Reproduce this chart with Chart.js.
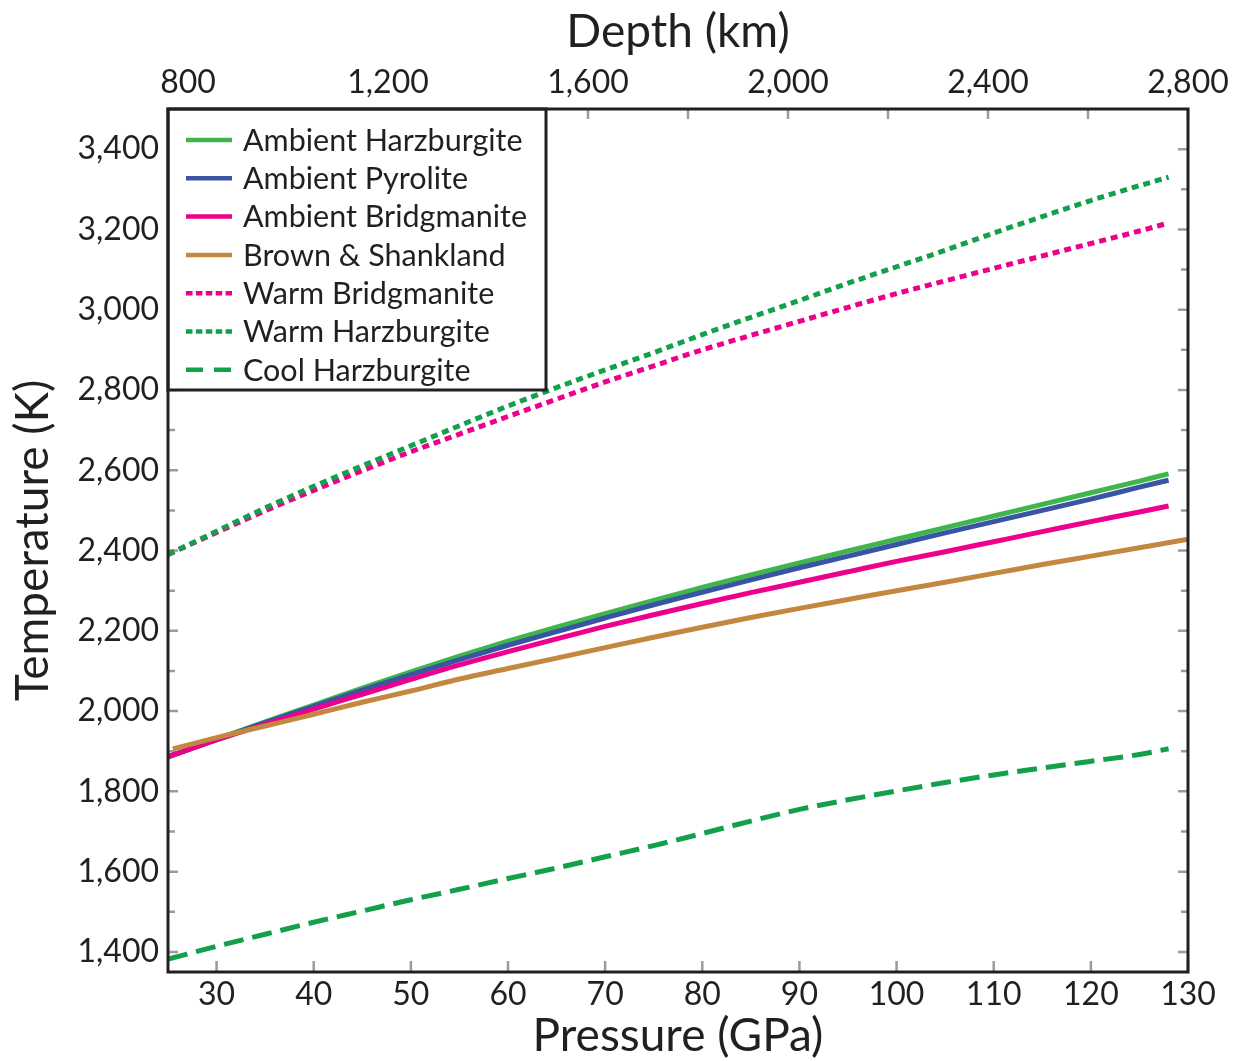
<!DOCTYPE html>
<html>
<head>
<meta charset="utf-8">
<script src="https://cdn.jsdelivr.net/npm/chart.js@4.4.1/dist/chart.umd.min.js"></script>
<style>
  html, body { margin: 0; padding: 0; background: #ffffff; }
  #wrap { width: 1242px; height: 1061px; }
</style>
</head>
<body>
<div id="wrap"><canvas id="c" width="1242" height="1061"></canvas></div>
<script>
// Pressure grid (GPa) shared by most profiles
const pressure = [25, 30, 35, 40, 45, 50, 55, 60, 65, 70, 75, 80, 85, 90, 95, 100, 105, 110, 115, 120, 125, 128];

// Temperature profiles (K)
const ambientHarzburgite = [1886, 1930, 1973, 2015, 2057, 2098, 2137, 2174, 2209, 2243, 2276, 2308, 2339, 2369, 2399, 2428, 2457, 2486, 2515, 2544, 2573, 2591];
const ambientPyrolite    = [1886, 1929, 1971, 2012, 2052, 2091, 2128, 2164, 2198, 2232, 2265, 2296, 2327, 2357, 2386, 2415, 2444, 2472, 2500, 2528, 2558, 2575];
const ambientBridgmanite = [1886, 1928, 1967, 2005, 2042, 2079, 2115, 2148, 2180, 2211, 2240, 2268, 2295, 2321, 2347, 2373, 2397, 2422, 2447, 2472, 2496, 2511];
const warmBridgmanite    = [2390, 2445, 2499, 2550, 2599, 2646, 2690, 2734, 2777, 2820, 2860, 2900, 2936, 2971, 3006, 3040, 3072, 3103, 3134, 3165, 3196, 3216];
const warmHarzburgite    = [2390, 2448, 2506, 2560, 2611, 2661, 2711, 2760, 2806, 2850, 2893, 2938, 2981, 3023, 3066, 3107, 3148, 3191, 3232, 3272, 3309, 3330];
const coolHarzburgite    = [1382, 1414, 1444, 1474, 1502, 1530, 1556, 1583, 1609, 1637, 1665, 1695, 1726, 1755, 1779, 1801, 1822, 1841, 1858, 1875, 1892, 1906];

// Brown & Shankland geotherm on its own pressure grid
const brownPressure  = [25.5, 30, 35, 40, 45, 50, 55, 60, 65, 70, 75, 80, 85, 90, 95, 100, 105, 110, 115, 120, 125, 130];
const brownShankland = [1906, 1934, 1963, 1992, 2022, 2050, 2080, 2106, 2132, 2158, 2184, 2209, 2233, 2256, 2278, 2300, 2321, 2343, 2365, 2386, 2407, 2428];

// Axis ticks
const pressureTicks = [30, 40, 50, 60, 70, 80, 90, 100, 110, 120, 130];
const depthTicks    = [800, 1000, 1200, 1400, 1600, 1800, 2000, 2200, 2400, 2600, 2800];
const depthLabels   = [800, 1200, 1600, 2000, 2400, 2800];
const tempTicks     = [1400, 1500, 1600, 1700, 1800, 1900, 2000, 2100, 2200, 2300, 2400, 2500, 2600, 2700, 2800, 2900, 3000, 3100, 3200, 3300, 3400];
const tempLabels    = [1400, 1600, 1800, 2000, 2200, 2400, 2600, 2800, 3000, 3200, 3400];

const INK = '#231f20';
const FONT = 'Lato';

function pts(xs, ys) { return xs.map((x, i) => ({ x: x, y: ys[i] })); }
function fmt(v) { return Number(v).toLocaleString('en-US'); }

const series = [
  { label: 'Ambient Harzburgite', data: pts(pressure, ambientHarzburgite), color: '#3fb54b', dash: [], legendDash: [], order: 6 },
  { label: 'Ambient Pyrolite',    data: pts(pressure, ambientPyrolite),    color: '#3a54a4', dash: [], legendDash: [], order: 5 },
  { label: 'Ambient Bridgmanite', data: pts(pressure, ambientBridgmanite), color: '#ec008c', dash: [], legendDash: [], order: 4 },
  { label: 'Brown & Shankland',   data: pts(brownPressure, brownShankland), color: '#c4873f', dash: [], legendDash: [], order: 3 },
  { label: 'Warm Bridgmanite',    data: pts(pressure, warmBridgmanite),    color: '#ec008c', dash: [7, 5], legendDash: [6.5, 3.4], order: 2 },
  { label: 'Warm Harzburgite',    data: pts(pressure, warmHarzburgite),    color: '#12a04b', dash: [7, 5], legendDash: [6.5, 3.4], order: 1 },
  { label: 'Cool Harzburgite',    data: pts(pressure, coolHarzburgite),    color: '#12a04b', dash: [20, 9], legendDash: [17, 11], order: 0 }
];

// Inward tick marks, plot frame and boxed legend
const framePlugin = {
  id: 'framePlugin',
  beforeDatasetsDraw(chart) {
    const { ctx, chartArea: a, scales } = chart;
    ctx.save();
    ctx.strokeStyle = '#9b9b9b';
    ctx.lineWidth = 2.5;
    ctx.beginPath();
    pressureTicks.forEach(v => {
      const x = scales.x.getPixelForValue(v);
      ctx.moveTo(x, a.bottom); ctx.lineTo(x, a.bottom - 11);
    });
    depthTicks.forEach(v => {
      const x = scales.xDepth.getPixelForValue(v);
      ctx.moveTo(x, a.top); ctx.lineTo(x, a.top + 10);
    });
    tempTicks.forEach(v => {
      const y = scales.y.getPixelForValue(v);
      const len = tempLabels.includes(v) ? 10 : 7;
      ctx.moveTo(a.left, y); ctx.lineTo(a.left + len, y);
      ctx.moveTo(a.right, y); ctx.lineTo(a.right - len, y);
    });
    ctx.stroke();
    ctx.restore();
  },
  afterDatasetsDraw(chart) {
    const { ctx, chartArea: a } = chart;
    ctx.save();
    // legend box
    const bx = a.left, by = a.top, bw = 378, bh = 281;
    ctx.fillStyle = '#ffffff';
    ctx.fillRect(bx, by, bw, bh);
    ctx.strokeStyle = INK;
    ctx.lineWidth = 3;
    ctx.strokeRect(bx, by, bw, bh);
    ctx.font = '30.5px ' + FONT;
    ctx.textBaseline = 'middle';
    ctx.textAlign = 'left';
    series.forEach((s, i) => {
      const y = by + 31 + i * 38.3;
      ctx.beginPath();
      ctx.setLineDash(s.legendDash);
      ctx.lineDashOffset = 0;
      ctx.lineCap = 'butt';
      ctx.strokeStyle = s.color;
      ctx.lineWidth = 4.5;
      ctx.moveTo(bx + 18, y);
      ctx.lineTo(bx + 64, y);
      ctx.stroke();
      ctx.setLineDash([]);
      ctx.fillStyle = INK;
      ctx.fillText(s.label, bx + 75, y + 1);
    });
    // plot frame
    ctx.strokeStyle = INK;
    ctx.lineWidth = 3;
    ctx.strokeRect(a.left, a.top, a.right - a.left, a.bottom - a.top);
    ctx.restore();
  }
};

const tickFont = { family: FONT, size: 32 };
const titleFont = { family: FONT, size: 46, lineHeight: 1 };

new Chart(document.getElementById('c'), {
  type: 'line',
  data: {
    datasets: series.map(s => ({
      label: s.label,
      data: s.data,
      borderColor: s.color,
      backgroundColor: s.color,
      borderWidth: 5,
      borderDash: s.dash,
      borderCapStyle: 'butt',
      pointRadius: 0,
      tension: 0.4,
      cubicInterpolationMode: 'monotone',
      fill: false,
      order: s.order
    }))
  },
  options: {
    responsive: false,
    animation: false,
    locale: 'en-US',
    layout: { padding: { left: 0, right: 54, top: 0, bottom: 0 } },
    plugins: { legend: { display: false }, tooltip: { enabled: false } },
    scales: {
      x: {
        type: 'linear', position: 'bottom', min: 25, max: 130,
        grid: { display: false, drawTicks: false }, border: { display: false },
        afterBuildTicks: s => { s.ticks = pressureTicks.map(v => ({ value: v })); },
        afterFit: s => { s.height = 89; },
        ticks: { autoSkip: false, maxRotation: 0, padding: 3, color: INK, font: tickFont, callback: v => String(v) },
        title: { display: true, text: 'Pressure (GPa)', color: INK, font: titleFont, padding: { top: 0, bottom: 2 } }
      },
      xDepth: {
        type: 'linear', position: 'top', min: 760, max: 2800,
        grid: { display: false, drawTicks: false }, border: { display: false },
        afterBuildTicks: s => { s.ticks = depthLabels.map(v => ({ value: v })); },
        afterFit: s => { s.height = 109; },
        ticks: { autoSkip: false, maxRotation: 0, padding: 7, color: INK, font: tickFont, callback: v => fmt(v) },
        title: { display: true, text: 'Depth (km)', color: INK, font: titleFont, padding: { top: 9, bottom: 0 } }
      },
      y: {
        type: 'linear', position: 'left', min: 1350, max: 3500,
        grid: { display: false, drawTicks: false }, border: { display: false },
        afterBuildTicks: s => { s.ticks = tempLabels.map(v => ({ value: v })); },
        afterFit: s => { s.width = 168; },
        ticks: { autoSkip: false, padding: 9, color: INK, font: tickFont, callback: v => fmt(v) },
        title: { display: true, text: 'Temperature (K)', color: INK, font: titleFont, padding: { top: 10, bottom: 0 } }
      }
    }
  },
  plugins: [framePlugin]
});
</script>
</body>
</html>
